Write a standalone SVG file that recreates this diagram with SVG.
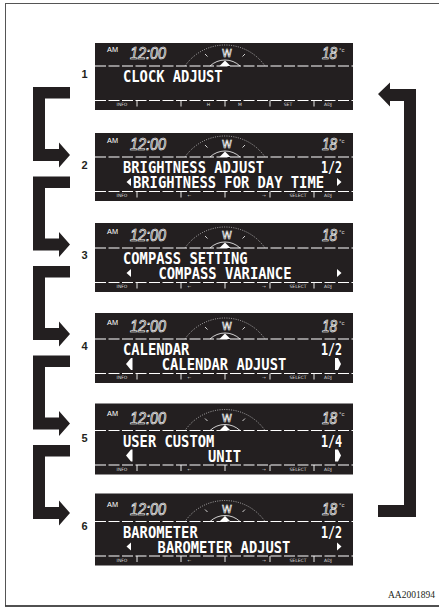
<svg xmlns="http://www.w3.org/2000/svg" xmlns:xlink="http://www.w3.org/1999/xlink" width="439" height="608" viewBox="0 0 439 608">
<style>
.scr{fill:#231f20}
.arr{fill:#231f20}
.dash{stroke:#fff;stroke-width:1.2;stroke-dasharray:11 2.5;fill:none}
.t{font-family:"DejaVu Sans Mono","Liberation Mono",monospace;font-size:15px;font-weight:bold;fill:#fff}
.seg{font-family:"Liberation Sans",sans-serif;font-style:italic;font-size:16px;fill:none;stroke:#fff;stroke-width:0.7}
.am{font-family:"Liberation Sans",sans-serif;font-size:7px;fill:#fff}
.deg{font-family:"Liberation Sans",sans-serif;font-size:6px;fill:#ddd}
.lab{font-family:"DejaVu Sans","Liberation Sans",sans-serif;font-size:4.5px;fill:#ddd;text-anchor:middle}
.tick{stroke:#fff;stroke-width:0.9}
.num{font-family:"Liberation Sans",sans-serif;font-weight:bold;font-size:11px;fill:#231f20;text-anchor:middle}
.tri{fill:#fff}
.cap{font-family:"Liberation Serif",serif;font-size:9.5px;fill:#231f20}
</style>
<defs>
<g id="face">
<text class="am" x="107" y="-14.5" textLength="11" lengthAdjust="spacingAndGlyphs">AM</text>
<text class="seg" x="130" y="-7" textLength="36" lengthAdjust="spacingAndGlyphs">12:00</text>
<path d="M185,0 A48.6,48.6 0 0 1 265,0" fill="none" stroke="#fff" stroke-width="0.6" stroke-dasharray="1 1.3"/>
<path d="M210,0 A21.75,21.75 0 0 1 240,0" fill="none" stroke="#fff" stroke-width="0.8"/>
<polygon class="tri" points="225,-5.5 219.5,0 230.5,0"/>
<text x="227" y="-9" font-family="DejaVu Sans,sans-serif" font-size="10" fill="none" stroke="#fff" stroke-width="0.6" text-anchor="middle">W</text>
<line x1="205" y1="-12" x2="207.5" y2="-9.5" stroke="#fff" stroke-width="0.8"/>
<line x1="245" y1="-12" x2="242.5" y2="-9.5" stroke="#fff" stroke-width="0.8"/>
<text class="seg" x="322" y="-7" textLength="15" lengthAdjust="spacingAndGlyphs">18</text>
<text class="deg" x="339" y="-14.5">°c</text>
<line class="dash" x1="95" y1="0" x2="353" y2="0"/>
<line class="dash" x1="95" y1="34.5" x2="353" y2="34.5"/>
<g class="tick">
<line x1="137" y1="34.5" x2="137" y2="40.5"/>
<line x1="181" y1="34.5" x2="181" y2="40.5"/>
<line x1="225" y1="34.5" x2="225" y2="40.5"/>
<line x1="270" y1="34.5" x2="270" y2="40.5"/>
<line x1="314" y1="34.5" x2="314" y2="40.5"/>
</g>
<text class="lab" x="122" y="40">INFO</text>
<text class="lab" x="328" y="40">ADJ</text>
</g>
<g id="row1">
<text class="lab" x="208.5" y="40">H</text>
<text class="lab" x="240" y="40">M</text>
<text class="lab" x="288" y="40">SET</text>
</g>
<g id="row2">
<text class="lab" x="189.5" y="40">←</text>
<text class="lab" x="264" y="40">→</text>
<text class="lab" x="298" y="40">SELECT</text>
</g>
</defs>

<rect x="5.5" y="3.5" width="445" height="602.5" fill="#fff" stroke="#555" stroke-width="1"/>
<line x1="5" y1="606" x2="439" y2="606" stroke="#333" stroke-width="1.5"/>

<g id="box1" transform="translate(0,66)">
<rect class="scr" x="95" y="-23" width="258" height="67"/>
<use xlink:href="#face"/>
<use xlink:href="#row1"/>
<text class="t" x="123" y="16" textLength="99.6" lengthAdjust="spacingAndGlyphs">CLOCK ADJUST</text>
</g>

<g id="box2" transform="translate(0,157)">
<rect class="scr" x="95" y="-24" width="258" height="68"/>
<use xlink:href="#face"/>
<use xlink:href="#row2"/>
<text class="t" x="123" y="16" textLength="141" lengthAdjust="spacingAndGlyphs">BRIGHTNESS ADJUST</text>
<text class="t" x="321" y="16" textLength="21" lengthAdjust="spacingAndGlyphs">1/2</text>
<polygon class="tri" points="131,21 131,29 126.5,25"/>
<text class="t" x="133" y="31" textLength="191" lengthAdjust="spacingAndGlyphs">BRIGHTNESS FOR DAY TIME</text>
<polygon class="tri" points="337,21 337,29 341.5,25"/>
</g>

<g id="box3" transform="translate(0,248)">
<rect class="scr" x="95" y="-25" width="258" height="69"/>
<use xlink:href="#face"/>
<use xlink:href="#row2"/>
<text class="t" x="123" y="16" textLength="124.5" lengthAdjust="spacingAndGlyphs">COMPASS SETTING</text>
<polygon class="tri" points="131,21 131,29 126.5,25"/>
<text class="t" x="225" y="31" text-anchor="middle" textLength="133" lengthAdjust="spacingAndGlyphs">COMPASS VARIANCE</text>
<polygon class="tri" points="337,21 337,29 341.5,25"/>
</g>

<g id="box4" transform="translate(0,339)">
<rect class="scr" x="95" y="-26" width="258" height="70"/>
<use xlink:href="#face"/>
<use xlink:href="#row2"/>
<text class="t" x="123" y="16" textLength="66.4" lengthAdjust="spacingAndGlyphs">CALENDAR</text>
<text class="t" x="321" y="16" textLength="21" lengthAdjust="spacingAndGlyphs">1/2</text>
<polygon class="tri" points="131,19 132.5,19 132.5,31 131,31 126,25"/>
<text class="t" x="224" y="31" text-anchor="middle" textLength="124.5" lengthAdjust="spacingAndGlyphs">CALENDAR ADJUST</text>
<polygon class="tri" points="335,19 338,19 341,25 338,31 335,31"/>
</g>

<g id="box5" transform="translate(0,430.5)">
<rect class="scr" x="95" y="-27" width="258" height="71"/>
<use xlink:href="#face"/>
<use xlink:href="#row2"/>
<text class="t" x="123" y="16" textLength="91.3" lengthAdjust="spacingAndGlyphs">USER CUSTOM</text>
<text class="t" x="321" y="16" textLength="21" lengthAdjust="spacingAndGlyphs">1/4</text>
<polygon class="tri" points="131,19 132.5,19 132.5,31 131,31 126,25"/>
<text class="t" x="224.5" y="31" text-anchor="middle" textLength="33.2" lengthAdjust="spacingAndGlyphs">UNIT</text>
<polygon class="tri" points="335,19 338,19 341,25 338,31 335,31"/>
</g>

<g id="box6" transform="translate(0,521.5)">
<rect class="scr" x="95" y="-28" width="258" height="72"/>
<use xlink:href="#face"/>
<use xlink:href="#row2"/>
<text class="t" x="123" y="16" textLength="74.7" lengthAdjust="spacingAndGlyphs">BAROMETER</text>
<text class="t" x="321" y="16" textLength="21" lengthAdjust="spacingAndGlyphs">1/2</text>
<polygon class="tri" points="131,21 131,29 126.5,25"/>
<text class="t" x="224" y="31" text-anchor="middle" textLength="132.8" lengthAdjust="spacingAndGlyphs">BAROMETER ADJUST</text>
<polygon class="tri" points="337,21 337,29 341.5,25"/>
</g>

<g id="labels">
<text class="num" x="84.5" y="78">1</text>
<text class="num" x="84.5" y="169">2</text>
<text class="num" x="84.5" y="259">3</text>
<text class="num" x="84.5" y="350">4</text>
<text class="num" x="84.5" y="442">5</text>
<text class="num" x="84.5" y="530">6</text>
</g>

<g id="connectors">
<path class="arr" d="M70,87 H33 V161 H59 V167.5 L70,155 L59,142.5 V149 H45 V98.5 H70 Z"/>
<path class="arr" d="M70,176.5 H33 V250.5 H59 V257 L70,244.5 L59,232 V238.5 H45 V188 H70 Z"/>
<path class="arr" d="M70,266 H33 V340 H59 V346.5 L70,334 L59,321.5 V328 H45 V277.5 H70 Z"/>
<path class="arr" d="M70,355.5 H33 V429.5 H59 V436 L70,423.5 L59,411 V417.5 H45 V367 H70 Z"/>
<path class="arr" d="M70,445 H33 V519 H59 V525.5 L70,513 L59,500.5 V507 H45 V456.5 H70 Z"/>
<path class="arr" d="M378,94 L390,82.5 V89 H416 V517 H378 V505 H404 V101 H390 V106.5 Z"/>
</g>

<text class="cap" x="388" y="598">AA2001894</text>
</svg>
